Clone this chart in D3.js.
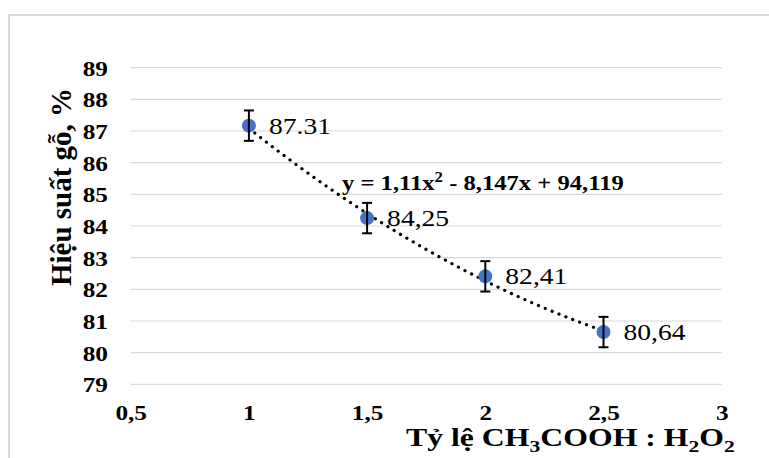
<!DOCTYPE html>
<html><head><meta charset="utf-8">
<script src="https://cdn.jsdelivr.net/npm/d3@7"></script>
<style>html,body{margin:0;padding:0;background:#fff;}svg{display:block;}
svg text{font-family:"Liberation Serif","Tinos","Times New Roman","DejaVu Serif",serif;}</style>
</head><body>
<svg id="c" width="769" height="458"></svg>
<script>
const ratios = [1, 1.5, 2, 2.5];
const yields = [87.17, 84.25, 82.41, 80.65];
const labels = ["87.31", "84,25", "82,41", "80,64"];
const errors = [0.48, 0.48, 0.48, 0.48];
const xTicks = [0.5, 1, 1.5, 2, 2.5, 3];
const xTickLabels = ["0,5", "1", "1,5", "2", "2,5", "3"];
const yTicks = [79, 80, 81, 82, 83, 84, 85, 86, 87, 88, 89];
const trendCoef = [1.11, -8.147, 94.119];

const svg = d3.select("#c");
const SX = 1.15; // horizontal stretch seen in the reference text

svg.append("rect").attr("x", 9).attr("y", 15).attr("width", 800).attr("height", 500)
  .attr("fill", "none").attr("stroke", "#d9d9d9").attr("stroke-width", 2);

const x = d3.scaleLinear().domain([0.5, 3]).range([130.7, 721.7]);
const y = d3.scaleLinear().domain([79, 89]).range([384.3, 67.7]);

// gridlines
svg.append("g").selectAll("line").data(yTicks).join("line")
  .attr("x1", x(0.5)).attr("x2", x(3))
  .attr("y1", d => y(d)).attr("y2", d => y(d))
  .attr("stroke", "#d9d9d9").attr("stroke-width", 1.2);

// y axis labels
const yAxis = d3.axisLeft(y).tickValues(yTicks).tickSize(0).tickPadding(0).tickFormat(d3.format("d"));
const gy = svg.append("g").attr("transform", "translate(108,0)").call(yAxis);
gy.select(".domain").remove();
gy.attr("font-family", null);
gy.selectAll("text").attr("font-weight", "bold").attr("font-size", 22).attr("fill", "#000")
  .attr("x", 0).attr("dy", "0.34em").attr("transform", `scale(${SX},1)`);

// x axis labels
const xAxis = d3.axisBottom(x).tickValues(xTicks).tickSize(0).tickPadding(0).tickFormat((d, i) => xTickLabels[i]);
const gx = svg.append("g").attr("transform", "translate(0,404)").call(xAxis);
gx.select(".domain").remove();
gx.attr("font-family", null);
gx.selectAll("text").attr("font-weight", "bold").attr("font-size", 22).attr("fill", "#000")
  .attr("dy", "0.71em").attr("transform", `scale(${SX},1)`);

// trendline
const tx = d3.range(ratios[0], ratios[ratios.length - 1] + 0.0001, 0.02);
const line = d3.line().x(d => x(d)).y(d => y(trendCoef[0] * d * d + trendCoef[1] * d + trendCoef[2]));
svg.append("path").attr("d", line(tx)).attr("fill", "none").attr("stroke", "#000")
  .attr("stroke-width", 3.2).attr("stroke-dasharray", "0.1 7.3").attr("stroke-linecap", "round");

// markers
svg.append("g").selectAll("circle").data(ratios).join("circle")
  .attr("cx", d => x(d)).attr("cy", (d, i) => y(yields[i])).attr("r", 7)
  .attr("fill", "#4472C4");

// error bars
const eb = svg.append("g").attr("stroke", "#000").attr("stroke-width", 2);
ratios.forEach((r, i) => {
  const cx = x(r), t = y(yields[i] + errors[i]), b = y(yields[i] - errors[i]);
  eb.append("line").attr("x1", cx).attr("x2", cx).attr("y1", t).attr("y2", b);
  eb.append("line").attr("x1", cx - 5).attr("x2", cx + 5).attr("y1", t).attr("y2", t);
  eb.append("line").attr("x1", cx - 5).attr("x2", cx + 5).attr("y1", b).attr("y2", b);
});

// helper: stretch a text horizontally to a target width, anchored at (ax, ay)
function fit(textSel, ax, ay, target) {
  const w = textSel.node().getBBox().width;
  const s = target / w;
  textSel.attr("x", 0).attr("y", 0).attr("transform", `translate(${ax},${ay}) scale(${s},1)`);
}

// data labels
svg.append("g").selectAll("text").data(ratios).join("text")
  .attr("dy", "0.35em").attr("font-size", 23).attr("fill", "#000")
  .text((d, i) => labels[i])
  .attr("transform", (d, i) => `translate(${x(d) + 20},${y(yields[i])}) scale(1.2,1)`);

// equation
const eq = svg.append("text").attr("font-weight", "bold").attr("font-size", 22).attr("fill", "#000");
eq.append("tspan").text("y = 1,11x");
eq.append("tspan").attr("dy", -8).attr("font-size", 15).text("2");
eq.append("tspan").attr("dy", 8).text(" - 8,147x + 94,119");
fit(eq, 342, 190, 282);

// y title
svg.append("text").attr("transform", "translate(71,187) rotate(-90)")
  .attr("text-anchor", "middle").attr("font-weight", "bold")
  .attr("font-size", 29).attr("fill", "#000").text("Hiệu suất gỗ, %");

// x title
const xt = svg.append("text").attr("font-weight", "bold").attr("font-size", 25).attr("fill", "#000");
xt.append("tspan").text("Tỷ lệ CH");
xt.append("tspan").attr("dy", 6).attr("font-size", 17).text("3");
xt.append("tspan").attr("dy", -6).text("COOH  : H");
xt.append("tspan").attr("dy", 6).attr("font-size", 17).text("2");
xt.append("tspan").attr("dy", -6).text("O");
xt.append("tspan").attr("dy", 6).attr("font-size", 17).text("2");
fit(xt, 406, 446, 329);
</script>
</body></html>
